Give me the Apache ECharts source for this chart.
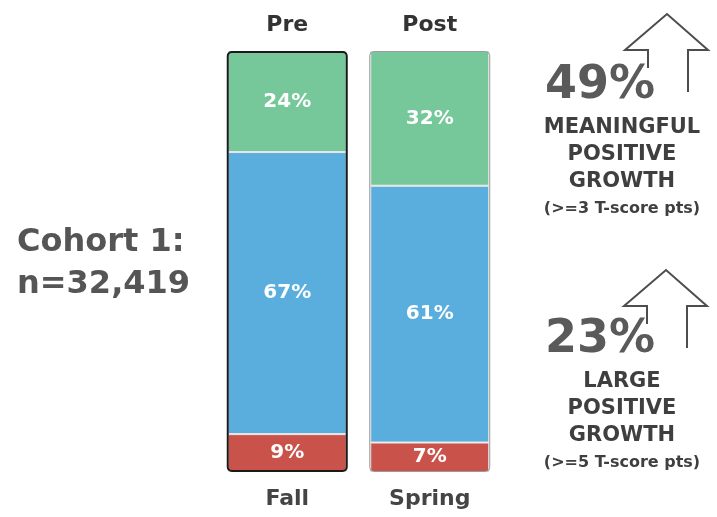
<!DOCTYPE html>
<html>
<head>
<meta charset="utf-8">
<script src="https://cdn.jsdelivr.net/npm/echarts@6/dist/echarts.min.js"></script>
<style>
  html, body { margin: 0; padding: 0; background: #fff; }
  #chart { width: 717px; height: 517px; }
</style>
</head>
<body>
<div id="chart"></div>
<script>
// Assessment windows and their labels
const phases = ['Pre', 'Post'];
const seasons = ['Fall', 'Spring'];

// Share of students in each band (percent)
const highBand = [24, 32];
const midBand = [67, 61];
const lowBand = [9, 7];

// Growth callouts
const growthPct = [49, 23];
const growthTitles = [
  ['MEANINGFUL', 'POSITIVE', 'GROWTH', '(>=3 T-score pts)'],
  ['LARGE', 'POSITIVE', 'GROWTH', '(>=5 T-score pts)']
];
const cohortLines = ['Cohort 1:', 'n=32,419'];

const FONT = '"DejaVu Sans", Verdana, sans-serif';
const chart = echarts.init(document.getElementById('chart'));

const segLabel = {
  show: true,
  position: 'inside',
  color: '#ffffff',
  fontFamily: FONT,
  fontWeight: 'bold',
  fontSize: 20,
  formatter: p => p.value + '%'
};

function arrow(x, y) {
  // open outlined up-arrow whose apex sits at (x, y)
  return {
    type: 'polyline',
    shape: {
      points: [
        [x - 19, y + 54], [x - 19, y + 36], [x - 42, y + 36],
        [x, y], [x + 41, y + 36], [x + 21, y + 36], [x + 21, y + 78]
      ]
    },
    style: { stroke: '#4d4d4d', lineWidth: 2, fill: null },
    z: 10
  };
}

function callout(i, cx, top) {
  const els = [];
  els.push({
    type: 'text',
    style: {
      text: growthPct[i] + '%', x: cx - 22, y: top, align: 'center', verticalAlign: 'middle',
      fill: '#5a5a5a', font: 'bold 46px ' + FONT
    }
  });
  const lines = growthTitles[i];
  lines.forEach((t, k) => {
    const last = k === lines.length - 1;
    els.push({
      type: 'text',
      style: {
        text: t, x: cx, y: top + 42 + k * 27, align: 'center', verticalAlign: 'middle',
        fill: '#3f3f3f', font: (last ? 'bold 16px ' : 'bold 21px ') + FONT
      }
    });
  });
  return els;
}

const option = {
  animation: false,
  grid: { left: 216, right: 216, top: 51, bottom: 45 },
  xAxis: [
    {
      type: 'category', data: seasons, position: 'bottom',
      axisLine: { show: false }, axisTick: { show: false },
      axisLabel: { color: '#444', fontFamily: FONT, fontWeight: 'bold', fontSize: 22, margin: 16 }
    },
    {
      type: 'category', data: phases, position: 'top',
      axisLine: { show: false }, axisTick: { show: false },
      axisLabel: { color: '#333', fontFamily: FONT, fontWeight: 'bold', fontSize: 22, margin: 15 }
    }
  ],
  yAxis: { type: 'value', min: 0, max: 100, show: false },
  series: [
    {
      type: 'bar', stack: 'share', data: lowBand, barWidth: 119,
      itemStyle: { color: '#C9534B', borderColor: '#e8e8e8', borderWidth: 1 },
      label: segLabel
    },
    {
      type: 'bar', stack: 'share', data: midBand, barWidth: 119,
      itemStyle: { color: '#5AAEDD', borderColor: '#e8e8e8', borderWidth: 1 },
      label: segLabel
    },
    {
      type: 'bar', stack: 'share', data: highBand, barWidth: 119,
      itemStyle: { color: '#76C799', borderColor: '#e8e8e8', borderWidth: 1 },
      label: segLabel
    },
    {
      // outline drawn around each full column
      type: 'bar', xAxisIndex: 1, barWidth: 121, barGap: '-100%', z: 5,
      data: [
        { value: 100, itemStyle: { color: 'rgba(0,0,0,0)', borderColor: '#1a1a1a', borderWidth: 2, borderRadius: 4 } },
        { value: 100, itemStyle: { color: 'rgba(0,0,0,0)', borderColor: '#9a9a9a', borderWidth: 1, borderRadius: 4 } }
      ],
      silent: true
    }
  ],
  graphic: [
    {
      type: 'text',
      style: { text: cohortLines[0], x: 17, y: 243, verticalAlign: 'middle', fill: '#555', font: 'bold 32px ' + FONT }
    },
    {
      type: 'text',
      style: { text: cohortLines[1], x: 17, y: 285, verticalAlign: 'middle', fill: '#555', font: 'bold 32px ' + FONT }
    },
    arrow(667, 14),
    arrow(666, 270),
    ...callout(0, 622, 86),
    ...callout(1, 622, 340)
  ]
};

chart.setOption(option);
</script>
</body>
</html>
